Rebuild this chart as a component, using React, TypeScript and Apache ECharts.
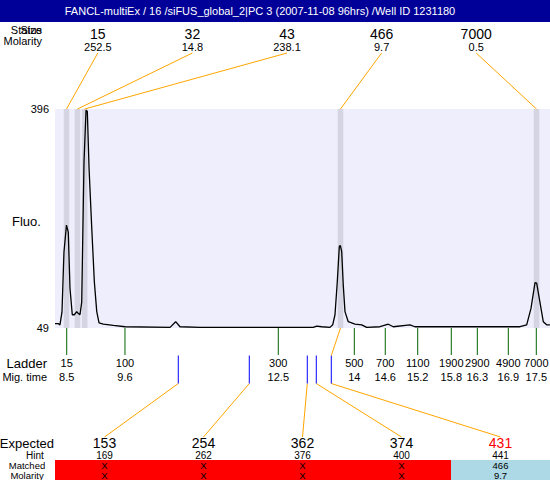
import React, { useEffect, useRef } from "react";
import * as echarts from "echarts";

const TITLE = "FANCL-multiEx / 16 /siFUS_global_2|PC 3 (2007-11-08 96hrs) /Well ID 1231180";

const FLUO_MIN = 49;
const FLUO_MAX = 396;
const TIME_MIN = 8.26;
const TIME_MAX = 17.768;

// electropherogram trace (migration time, fluorescence)
const traceTimes = [
  8.26, 8.32, 8.355, 8.394, 8.432, 8.48, 8.515, 8.548, 8.592, 8.631, 8.677, 8.708, 8.74, 8.773,
  8.817, 8.856, 8.881, 8.914, 8.966, 9.016, 9.062, 9.106, 9.188, 9.381, 9.606, 10.47, 10.578,
  10.661, 11.045, 12.966, 13.221, 13.287, 13.383, 13.542, 13.594, 13.638, 13.682, 13.721, 13.74,
  13.767, 13.797, 13.83, 13.893, 14.022, 14.151, 14.247, 14.502, 14.662, 14.758, 15.078, 15.174,
  17.191, 17.32, 17.403, 17.48, 17.512, 17.562, 17.639, 17.704, 17.767,
];
const traceFluo = [
  56, 56, 54, 74, 169, 212, 201, 112, 70, 70, 75, 72, 70, 90,
  312, 394, 392, 302, 207, 122, 75, 57, 55, 53, 51, 50, 59,
  51, 50, 50, 50, 52, 51, 50, 54, 70, 122, 178, 180,
  170, 117, 75, 59, 55, 54, 50, 51, 55, 51, 54, 51,
  51, 54, 80, 121, 120, 96, 59, 54, 54,
];

// detected peaks
const peakSizes = [15, 32, 43, 466, 7000];
const peakMolarity = ["252.5", "14.8", "238.1", "9.7", "0.5"];
const peakTimes = [8.481, 8.692, 8.83, 13.744, 17.509];

// ladder
const ladderSizes = [15, 100, 300, 500, 700, 1100, 1900, 2900, 4900, 7000];
const ladderMigTimes = ["8.5", "9.6", "12.5", "14", "14.6", "15.2", "15.8", "16.3", "16.9", "17.5"];
const ladderTimes = [8.485, 9.604, 12.549, 14.009, 14.604, 15.227, 15.872, 16.372, 16.967, 17.505];

// expected fragments
const expectedSizes = [153, 254, 362, 374, 431];
const hintSizes = [169, 262, 376, 400, 441];
const expectedTimes = [10.628, 11.992, 13.106, 13.279, 13.567];
const matchedSizes: (number | null)[] = [null, null, null, null, 466];
const matchedMolarity: (string | null)[] = [null, null, null, null, "9.7"];

const FONT = "Liberation Sans, Arial, sans-serif";

export default function App() {
  const ref = useRef<HTMLDivElement>(null);

  useEffect(() => {
    document.body.style.margin = "0";
    const chart = echarts.init(ref.current!, null, { renderer: "svg" });

    const GRID = { left: 55, top: 109, width: 495, height: 219 };
    const PEAK_SLOT_X0 = 97.8;
    const PEAK_SLOT_STEP = 94.6;
    const EXP_SLOT_X0 = 55;
    const EXP_SLOT_W = 99;

    const txt = (x: number, y: number, text: string, size: number, align: string, fill = "#000") => ({
      type: "text",
      x,
      y,
      style: { text, fill, fontSize: size, fontFamily: FONT, align, verticalAlign: "middle", lineHeight: size },
    });

    const option: any = {
      animation: false,
      backgroundColor: "#ffffff",
      grid: {
        left: GRID.left,
        top: GRID.top,
        width: GRID.width,
        height: GRID.height,
        show: true,
        backgroundColor: "#eeeefc",
        borderWidth: 0,
      },
      xAxis: { type: "value", min: TIME_MIN, max: TIME_MAX, show: false },
      yAxis: {
        type: "value",
        min: FLUO_MIN,
        max: FLUO_MAX,
        axisLine: { show: false },
        axisTick: { show: false },
        splitLine: { show: false },
        axisLabel: {
          show: true,
          customValues: [FLUO_MIN, FLUO_MAX],
          color: "#000",
          fontSize: 11,
          fontFamily: FONT,
          margin: 6,
        },
      },
      graphic: [
        { type: "rect", shape: { x: 0, y: 0, width: 550, height: 22 }, style: { fill: "#000099" } },
        txt(260, 11, TITLE, 11, "center", "#ffffff"),
        txt(42, 29.5, "Status", 11, "right"),
        txt(42, 29.5, "Size", 11, "right"),
        txt(42, 41, "Molarity", 11, "right"),
        txt(12, 221, "Fluo.", 13, "left"),
        txt(47, 363, "Ladder", 13, "right"),
        txt(47, 377, "Mig. time", 11, "right"),
        txt(54, 443, "Expected", 13, "right"),
        txt(35, 455, "Hint", 10, "center"),
        txt(27, 465, "Matched", 9.5, "center"),
        txt(27, 475, "Molarity", 9.5, "center"),
      ],
      series: [
        {
          type: "custom",
          z: 1,
          silent: true,
          data: peakTimes.map((t) => [t, FLUO_MAX]),
          encode: { x: 0, y: 1 },
          renderItem: (params: any, api: any) => {
            const t = peakTimes[params.dataIndex];
            const a = api.coord([t - 0.053, FLUO_MAX]);
            const b = api.coord([t + 0.053, FLUO_MIN]);
            return {
              type: "rect",
              shape: { x: a[0], y: a[1], width: b[0] - a[0], height: b[1] - a[1] },
              style: { fill: "#d4d4e2" },
            };
          },
        },
        {
          type: "line",
          z: 2,
          silent: true,
          showSymbol: false,
          data: traceTimes.map((t, i) => [t, traceFluo[i]]),
          lineStyle: { color: "#000", width: 1.3 },
        },
        {
          type: "custom",
          z: 3,
          silent: true,
          data: peakTimes.map((t) => [t, FLUO_MAX]),
          encode: { x: 0, y: 1 },
          renderItem: (params: any, api: any) => {
            const i = params.dataIndex;
            const top = api.coord([peakTimes[i], FLUO_MAX]);
            const sx = PEAK_SLOT_X0 + i * PEAK_SLOT_STEP;
            return {
              type: "group",
              children: [
                { type: "line", shape: { x1: sx, y1: 53, x2: top[0], y2: top[1] }, style: { stroke: "#ffa500", lineWidth: 1 } },
                txt(sx, 34, String(peakSizes[i]), 14, "center"),
                txt(sx, 47, peakMolarity[i], 11, "center"),
              ],
            };
          },
        },
        {
          type: "custom",
          z: 3,
          silent: true,
          data: ladderTimes.map((t) => [t, FLUO_MIN]),
          encode: { x: 0, y: 1 },
          renderItem: (params: any, api: any) => {
            const i = params.dataIndex;
            const p = api.coord([ladderTimes[i], FLUO_MIN]);
            return {
              type: "group",
              children: [
                { type: "line", shape: { x1: p[0], y1: p[1], x2: p[0], y2: p[1] + 27 }, style: { stroke: "#006400", lineWidth: 1 } },
                txt(p[0], p[1] + 35, String(ladderSizes[i]), 11, "center"),
                txt(p[0], p[1] + 49, ladderMigTimes[i], 11, "center"),
              ],
            };
          },
        },
        {
          type: "custom",
          z: 3,
          silent: true,
          data: expectedTimes.map((t) => [t, FLUO_MIN]),
          encode: { x: 0, y: 1 },
          renderItem: (params: any, api: any) => {
            const i = params.dataIndex;
            const p = api.coord([expectedTimes[i], FLUO_MIN]);
            const x = p[0];
            const y0 = p[1] + 27.5;
            const y1 = p[1] + 55.5;
            const slotLeft = EXP_SLOT_X0 + i * EXP_SLOT_W;
            const sx = slotLeft + EXP_SLOT_W / 2;
            const matched = matchedSizes[i] != null;
            const children: any[] = [
              { type: "line", shape: { x1: sx, y1: 437, x2: x, y2: y1 }, style: { stroke: "#ffa500", lineWidth: 1 } },
              { type: "line", shape: { x1: x, y1: y0, x2: x, y2: y1 }, style: { stroke: "#0000ff", lineWidth: 1 } },
              { type: "rect", shape: { x: slotLeft, y: 460, width: EXP_SLOT_W, height: 20 }, style: { fill: matched ? "#add8e6" : "#ff0000" } },
              txt(sx, 443, String(expectedSizes[i]), 14, "center", matched ? "#ff0000" : "#000"),
              txt(sx, 455, String(hintSizes[i]), 10, "center"),
              txt(sx, 465, matched ? String(matchedSizes[i]) : "X", 9.5, "center"),
              txt(sx, 475, matched ? String(matchedMolarity[i]) : "X", 9.5, "center"),
            ];
            if (matched) {
              const pk = peakSizes.indexOf(matchedSizes[i] as number);
              const q = api.coord([peakTimes[pk], FLUO_MIN]);
              children.push({ type: "line", shape: { x1: x, y1: y0, x2: q[0], y2: q[1] }, style: { stroke: "#ffa500", lineWidth: 1 } });
            }
            return { type: "group", children };
          },
        },
      ],
    };

    chart.setOption(option);
    return () => chart.dispose();
  }, []);

  return <div ref={ref} style={{ width: 550, height: 480 }} />;
}
